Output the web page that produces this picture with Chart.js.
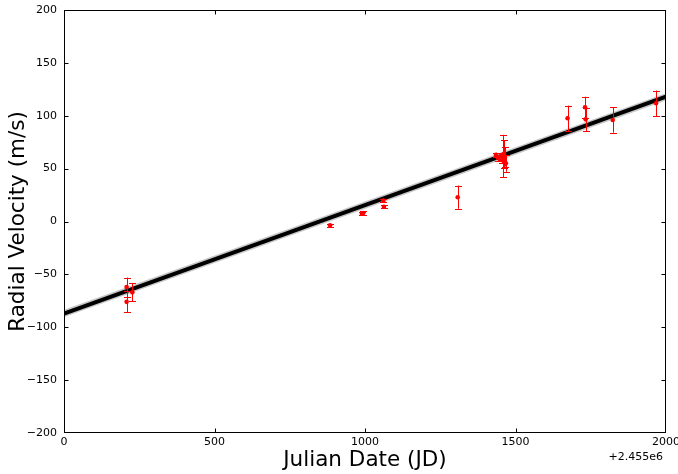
<!DOCTYPE html>
<html><head><meta charset="utf-8">
<script src="https://cdn.jsdelivr.net/npm/chart.js@4/dist/chart.umd.min.js"></script>
<style>html,body{margin:0;padding:0;background:#fff;}#wrap{width:678px;height:474px;position:relative;}</style>
</head><body><div id="wrap"><canvas id="c" width="678" height="474"></canvas></div>
<script>
// Julian date minus 2455000
const jdOffset = [208, 208, 227, 884, 990, 994, 1061, 1063, 1308,
                  1435, 1442, 1448, 1452, 1456, 1460, 1462, 1465, 1468,
                  1673, 1731, 1733, 1823, 1967];
const rvValue  = [-62, -76, -67, -3.6, 7.4, 8, 19.7, 14, 23,
                  63, 60, 59, 62, 58, 62, 64, 61, 55,
                  97.6, 108, 96.6, 96, 111.8];
const rvError  = [9, 10, 8.5, 1.2, 1.5, 1.5, 1.5, 1.5, 11,
                  2, 2.5, 2, 3, 3, 20, 13, 9, 8,
                  12, 10, 11, 12, 12];
const fitJd = [0, 2000];
const fitRv = [-87, 118];
const offsetLabel = '+2.455e6';
const xTitle = 'Julian Date (JD)';
const yTitle = 'Radial Velocity (m/s)';

const FONT = "'DejaVu Sans', sans-serif";
const fmt = v => String(v).replace('-', '\u2212');

const errorBars = {
  id: 'errorBars',
  beforeDatasetDraw(chart, args) {
    if (args.index !== 0) return;
    const {ctx, scales: {x, y}} = chart;
    ctx.save();
    ctx.strokeStyle = '#ff0000';
    ctx.lineWidth = 1;
    jdOffset.forEach((jd, i) => {
      const px = Math.round(x.getPixelForValue(jd)) + 0.5;
      const yt = y.getPixelForValue(rvValue[i] + rvError[i]);
      const yb = y.getPixelForValue(rvValue[i] - rvError[i]);
      ctx.beginPath();
      ctx.moveTo(px, yt); ctx.lineTo(px, yb);
      ctx.moveTo(px - 3.5, Math.round(yt) + 0.5); ctx.lineTo(px + 3.5, Math.round(yt) + 0.5);
      ctx.moveTo(px - 3.5, Math.round(yb) + 0.5); ctx.lineTo(px + 3.5, Math.round(yb) + 0.5);
      ctx.stroke();
    });
    ctx.restore();
  }
};

const frame = {
  id: 'frame',
  afterDraw(chart) {
    const {ctx, chartArea: a, scales: {x, y}} = chart;
    ctx.save();
    ctx.strokeStyle = '#000';
    ctx.lineWidth = 1;
    const L = Math.round(a.left) + 0.5, R = Math.round(a.right) - 0.5;
    const T = Math.round(a.top) + 0.5, B = Math.round(a.bottom) - 0.5;
    const clamp = (v, lo, hi) => Math.min(hi, Math.max(lo, v));
    ctx.strokeRect(L, T, R - L, B - T);
    ctx.beginPath();
    x.ticks.forEach(t => {
      const px = clamp(Math.round(x.getPixelForValue(t.value)) + 0.5, L, R);
      ctx.moveTo(px, B); ctx.lineTo(px, B - 4);
      ctx.moveTo(px, T); ctx.lineTo(px, T + 4);
    });
    y.ticks.forEach(t => {
      const py = clamp(Math.round(y.getPixelForValue(t.value)) + 0.5, T, B);
      ctx.moveTo(L, py); ctx.lineTo(L + 4, py);
      ctx.moveTo(R, py); ctx.lineTo(R - 4, py);
    });
    ctx.stroke();
    ctx.fillStyle = '#000';
    ctx.font = '11px ' + FONT;
    ctx.textAlign = 'right';
    ctx.textBaseline = 'middle';
    ctx.fillText(offsetLabel, a.right - 3, 457);
    ctx.restore();
  }
};

new Chart(document.getElementById('c'), {
  type: 'scatter',
  data: {
    datasets: [
      {
        label: 'data',
        data: jdOffset.map((v, i) => ({x: v, y: rvValue[i]})),
        pointRadius: 2.3,
        pointBackgroundColor: '#ff0000',
        pointBorderWidth: 0,
        order: 1
      },
      {
        type: 'line',
        label: 'fit',
        data: fitJd.map((v, i) => ({x: v, y: fitRv[i]})),
        borderColor: '#000',
        borderWidth: 4,
        pointRadius: 0,
        order: 2
      },
      {
        type: 'line',
        label: 'samples',
        data: fitJd.map((v, i) => ({x: v, y: fitRv[i]})),
        borderColor: 'rgba(0,0,0,0.22)',
        borderWidth: 7,
        pointRadius: 0,
        order: 3
      }
    ]
  },
  options: {
    responsive: false,
    animation: false,
    devicePixelRatio: 1,
    layout: {padding: {left: 0, top: 10, right: 12, bottom: 0}},
    plugins: {legend: {display: false}, tooltip: {enabled: false}},
    scales: {
      x: {
        type: 'linear', min: 0, max: 2000,
        grid: {display: false, drawTicks: false},
        border: {display: false},
        ticks: {stepSize: 500, color: '#000', font: {family: FONT, size: 11}, padding: 3, callback: fmt, maxRotation: 0},
        title: {display: true, text: xTitle, color: '#000', font: {family: FONT, size: 21.5}, padding: {top: 1, bottom: 1}},
        afterFit(s) { s.height = 41; s.paddingLeft = 0; s.paddingRight = 0; }
      },
      y: {
        type: 'linear', min: -200, max: 200,
        grid: {display: false, drawTicks: false},
        border: {display: false},
        ticks: {stepSize: 50, color: '#000', font: {family: FONT, size: 11}, padding: 7, callback: fmt},
        title: {display: true, text: yTitle, color: '#000', font: {family: FONT, size: 21.5}, padding: {top: 6, bottom: 0}},
        afterFit(s) { s.width = 64; s.paddingTop = 0; s.paddingBottom = 0; }
      }
    }
  },
  plugins: [errorBars, frame]
});
</script>
</body></html>
